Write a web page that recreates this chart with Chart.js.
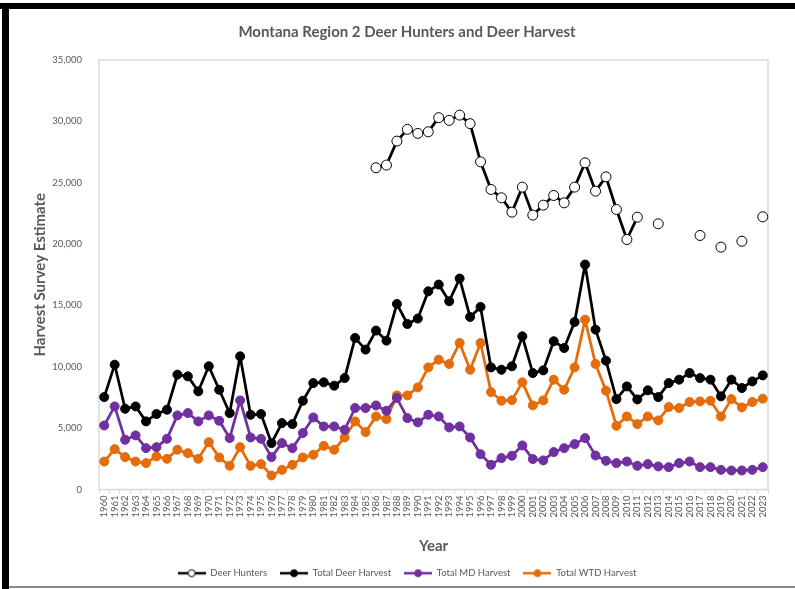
<!DOCTYPE html>
<html>
<head>
<meta charset="utf-8">
<script src="https://cdn.jsdelivr.net/npm/chart.js@4"></script>
<style>
  html, body { margin: 0; padding: 0; background: #fff; }
  #wrap { position: relative; width: 795px; height: 589px; overflow: hidden; }
  #frameTop { position: absolute; left: 0; top: 3px; width: 795px; height: 6px; background: #000; }
  #frameLeft { position: absolute; left: 2px; top: 3px; width: 7px; height: 586px; background: #000; }
  #frameBottom { position: absolute; left: 9px; top: 586px; width: 786px; height: 2px; background: #8c8c8c; }
  canvas { position: absolute; left: 0; top: 0; }
</style>
</head>
<body>
<div id="wrap">
  <canvas id="deerChart" width="795" height="589"></canvas>
  <div id="frameTop"></div>
  <div id="frameLeft"></div>
  <div id="frameBottom"></div>
</div>
<script>
// chart data
const years = ['1960','1961','1962','1963','1964','1965','1966','1967','1968','1969',
  '1970','1971','1972','1973','1974','1975','1976','1977','1978','1979',
  '1980','1981','1982','1983','1984','1985','1986','1987','1988','1989',
  '1990','1991','1992','1993','1994','1995','1996','1997','1998','1999',
  '2000','2001','2002','2003','2004','2005','2006','2007','2008','2009',
  '2010','2011','2012','2013','2014','2015','2016','2017','2018','2019',
  '2020','2021','2022','2023'];

const deerHunters = [null,null,null,null,null,null,null,null,null,null,
  null,null,null,null,null,null,null,null,null,null,
  null,null,null,null,null,null,26220,26440,28390,29350,
  29020,29150,30300,30080,30510,29810,26700,24450,23770,22600,
  24640,22360,23170,23960,23360,24640,26620,24310,25480,22820,
  20370,22190,null,21650,null,null,null,20700,null,19750,
  null,20230,null,22220];

const totalHarvest = [7530,10170,6580,6770,5550,6150,6500,9360,9220,8000,
  10040,8130,6230,10850,6090,6150,3780,5410,5330,7230,
  8670,8730,8460,9080,12350,11400,12950,12130,15120,13490,
  13930,16150,16700,15340,17190,14060,14880,9950,9760,10040,
  12480,9490,9710,12080,11530,13650,18330,13030,10500,7370,
  8400,7340,8080,7530,8670,8950,9490,9080,8950,7590,
  8950,8270,8810,9300];

const mdHarvest = [5220,6770,4050,4410,3370,3450,4130,6040,6230,5550,
  6040,5600,4190,7260,4240,4130,2640,3780,3370,4600,
  5870,5140,5140,4870,6640,6640,6850,6420,7450,5820,
  5470,6090,5950,5060,5140,4240,2880,2010,2560,2750,
  3590,2480,2370,3050,3370,3700,4190,2770,2340,2150,
  2280,1930,2070,1880,1820,2150,2280,1820,1820,1600,
  1550,1550,1600,1820];

const wtdHarvest = [2280,3290,2640,2280,2150,2690,2500,3240,2960,2500,
  3860,2610,1930,3450,1930,2070,1140,1600,2010,2610,
  2830,3560,3240,4240,5550,4680,5950,5740,7670,7670,
  8320,9950,10580,10230,11940,9760,11940,7940,7230,7280,
  8730,6850,7260,8950,8130,9950,13840,10230,8050,5190,
  5950,5330,5950,5630,6720,6640,7130,7180,7230,5950,
  7370,6690,7130,7400];

const seriesNames = ['Deer Hunters', 'Total Deer Harvest', 'Total MD Harvest', 'Total WTD Harvest'];

const BLACK = '#000000';
const PURPLE = '#7030A0';
const ORANGE = '#E46C0A';
const GREY_TEXT = '#595959';
const FONT = 'Lato, "Open Sans", sans-serif';

// little "line with marker" icon for the legend
function legendIcon(color, hollow) {
    const c = document.createElement('canvas');
    c.width = 28;
    c.height = 10;
    const g = c.getContext('2d');
    g.strokeStyle = color;
    g.lineWidth = 2.5;
    g.beginPath();
    g.moveTo(0, 5);
    g.lineTo(28, 5);
    g.stroke();
    g.beginPath();
    g.arc(14, 5, 3.5, 0, Math.PI * 2);
    g.fillStyle = hollow ? '#ffffff' : color;
    g.fill();
    g.lineWidth = 1;
    g.stroke();
    return c;
}
const icons = [legendIcon(BLACK, true), legendIcon(BLACK, false), legendIcon(PURPLE, false), legendIcon(ORANGE, false)];

// light grey box round the plot area
const plotBorder = {
    id: 'plotBorder',
    beforeDatasetsDraw(chart) {
        const {ctx, chartArea: a} = chart;
        ctx.save();
        ctx.strokeStyle = '#d9d9d9';
        ctx.lineWidth = 1.5;
        ctx.strokeRect(a.left, a.top, a.right - a.left, a.bottom - a.top);
        ctx.restore();
    }
};

function lineSet(label, data, color, hollow) {
    return {
        label: label,
        data: data,
        borderColor: color,
        backgroundColor: hollow ? '#ffffff' : color,
        borderWidth: 2.75,
        borderJoinStyle: 'round',
        pointRadius: hollow ? 5 : 4.5,
        pointHoverRadius: 5,
        pointBorderWidth: 1,
        pointBorderColor: color,
        pointBackgroundColor: hollow ? '#ffffff' : color,
        tension: 0,
        spanGaps: false
    };
}

const ctx = document.getElementById('deerChart').getContext('2d');
const deerChart = new Chart(ctx, {
    type: 'line',
    data: {
        labels: years,
        datasets: [
            lineSet(seriesNames[0], deerHunters, BLACK, true),
            lineSet(seriesNames[1], totalHarvest, BLACK, false),
            lineSet(seriesNames[2], mdHarvest, PURPLE, false),
            lineSet(seriesNames[3], wtdHarvest, ORANGE, false)
        ]
    },
    options: {
        responsive: false,
        animation: false,
        layout: { padding: { left: 46, right: 27, top: 10, bottom: 1 } },
        plugins: {
            title: {
                display: true,
                text: 'Montana Region 2 Deer Hunters and Deer Harvest',
                color: GREY_TEXT,
                font: { family: FONT, size: 15, weight: 'bold' },
                padding: { top: 13, bottom: 19 }
            },
            legend: {
                position: 'bottom',
                labels: {
                    color: GREY_TEXT,
                    font: { family: FONT, size: 9.5 },
                    usePointStyle: true,
                    pointStyleWidth: 28,
                    boxHeight: 9,
                    padding: 13,
                    generateLabels(chart) {
                        const items = Chart.defaults.plugins.legend.labels.generateLabels(chart);
                        items.forEach((item, i) => { item.pointStyle = icons[i]; });
                        return items;
                    }
                }
            },
            tooltip: { enabled: false }
        },
        scales: {
            x: {
                offset: true,
                grid: { drawOnChartArea: false, drawTicks: true, tickLength: 4, color: '#d9d9d9', offset: true },
                border: { display: false },
                ticks: {
                    color: GREY_TEXT,
                    font: { family: FONT, size: 9.5 },
                    minRotation: 90,
                    maxRotation: 90,
                    autoSkip: false,
                    padding: 2
                },
                title: {
                    display: true,
                    text: 'Year',
                    color: GREY_TEXT,
                    font: { family: FONT, size: 15, weight: 'bold' },
                    padding: { top: 0, bottom: 0 }
                },
                afterFit(scale) { scale.height = 66; }
            },
            y: {
                min: 0,
                max: 35000,
                grid: { display: false },
                border: { display: false },
                ticks: {
                    stepSize: 5000,
                    color: GREY_TEXT,
                    font: { family: FONT, size: 9.5 },
                    padding: 9,
                    callback: (v) => v.toLocaleString('en-US')
                },
                title: {
                    display: true,
                    text: 'Harvest Survey Estimate',
                    color: GREY_TEXT,
                    font: { family: FONT, size: 15, weight: 'bold' },
                    padding: { top: -15, bottom: 0 }
                },
                afterFit(scale) { scale.width = 53; }
            }
        }
    },
    plugins: [plotBorder]
});
</script>
</body>
</html>
